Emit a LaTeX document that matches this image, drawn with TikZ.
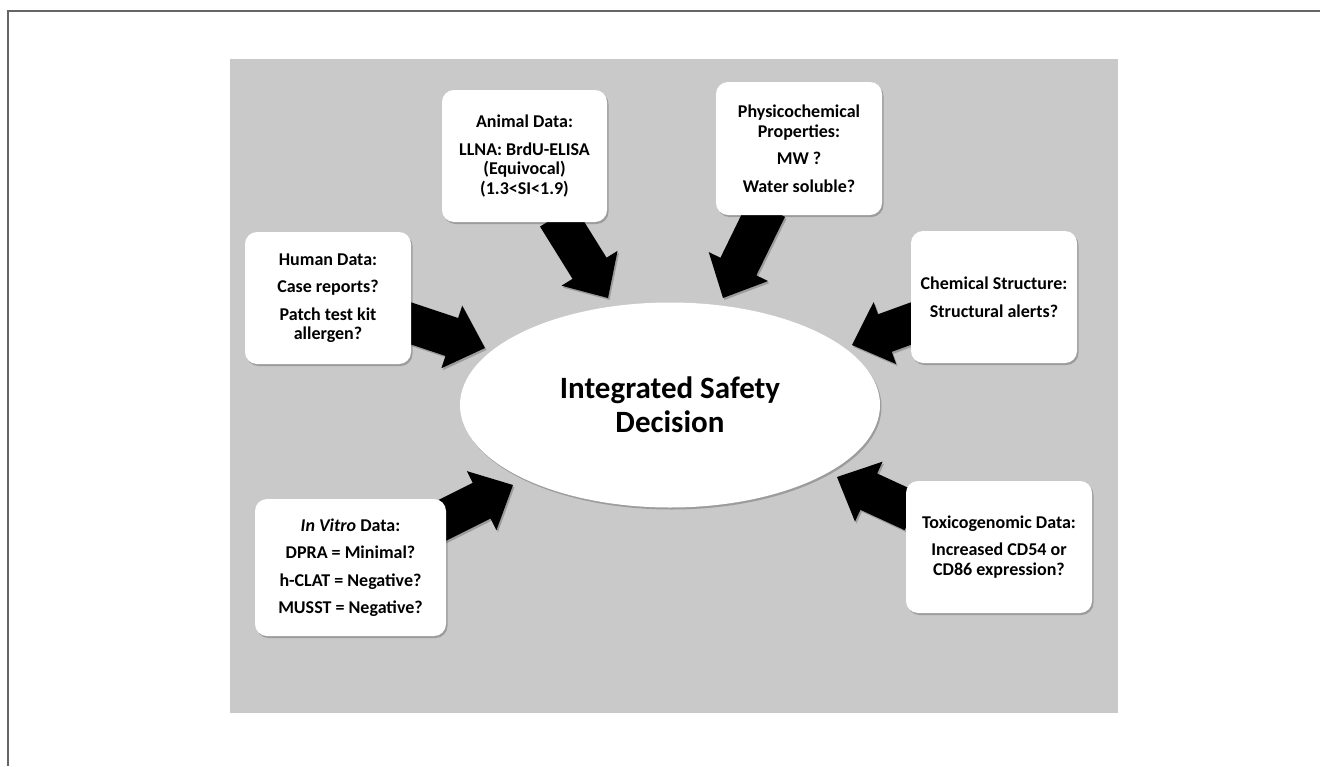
\documentclass[tikz,border=0pt]{standalone}
\usepackage{fontspec}
\setmainfont{Carlito}
\usetikzlibrary{calc,shadows,shapes.geometric}
\definecolor{bggray}{HTML}{C9C9C9}
\definecolor{framegray}{HTML}{666666}
\tikzset{
  softshadow/.style={drop shadow={shadow xshift=1.5pt, shadow yshift=-2pt, fill=black, opacity=0.22}},
  infobox/.style={fill=white, rounded corners=12pt, align=center, inner sep=0pt,
    font=\bfseries\fontsize{18}{19.5}\selectfont, softshadow},
  centerell/.style={ellipse, fill=white, inner sep=0pt, minimum width=420pt, minimum height=205pt,
    align=center, font=\bfseries\fontsize{31}{34}\selectfont, softshadow},
  blockarrowstyle/.style={fill=black, softshadow}
}
\newcommand\blockarrow[2]{%
  \fill[blockarrowstyle] ($(#1)!20pt!90:(#2)$)
    -- ($(#2)!35pt!(#1)!20pt!-90:(#1)$)
    -- ($(#2)!35pt!(#1)!33pt!-90:(#1)$)
    -- (#2)
    -- ($(#2)!35pt!(#1)!33pt!90:(#1)$)
    -- ($(#2)!35pt!(#1)!20pt!90:(#1)$)
    -- ($(#1)!20pt!-90:(#2)$) -- cycle;}
\begin{document}
\begin{tikzpicture}[x=1pt,y=-1pt]
\useasboundingbox (0,0) rectangle (1320,766);
\fill[white] (0,0) rectangle (1320,766);
\draw[framegray, line width=2pt] (8,766) -- (8,11) -- (1320,11);
\fill[bggray] (230,59) rectangle (1118,713);

% arrow end points
\coordinate (tA) at (557,216);  \coordinate (hA) at (608,298);
\coordinate (tH) at (404,321);  \coordinate (hH) at (485,348);
\coordinate (tP) at (767,208);  \coordinate (hP) at (723,298);
\coordinate (tC) at (918,321);  \coordinate (hC) at (852,345);
\coordinate (tV) at (433,525);  \coordinate (hV) at (513,485);
\coordinate (tT) at (913,512);  \coordinate (hT) at (837,477);

\blockarrow{tA}{hA}
\blockarrow{tH}{hH}
\blockarrow{tP}{hP}
\blockarrow{tC}{hC}
\blockarrow{tV}{hV}
\blockarrow{tT}{hT}

\node[centerell] (isd) at (670,405) {Integrated Safety\\Decision};

\node[infobox, minimum width=165pt, minimum height=132pt] (animal) at (524.5,156)
  {Animal Data:\\[8pt]LLNA: BrdU-ELISA\\(Equivocal)\\(1.3<SI<1.9)};
\node[infobox, minimum width=166pt, minimum height=132pt] (human) at (328,298)
  {Human Data:\\[8pt]Case reports?\\[8pt]Patch test kit\\allergen?};
\node[infobox, minimum width=166pt, minimum height=133pt] (physico) at (799,148.5)
  {Physicochemical\\Properties:\\[8pt]MW ?\\[8pt]Water soluble?};
\node[infobox, minimum width=166pt, minimum height=132pt] (chem) at (994,297)
  {Chemical Structure:\\[8pt]Structural alerts?};
\node[infobox, minimum width=191pt, minimum height=137pt] (invitro) at (350.5,567.5)
  {\textit{In Vitro} Data:\\[8pt]DPRA = Minimal?\\[8pt]h-CLAT = Negative?\\[8pt]MUSST = Negative?};
\node[infobox, minimum width=186pt, minimum height=132pt] (toxico) at (999,547)
  {Toxicogenomic Data:\\[8pt]Increased CD54 or\\CD86 expression?};
\end{tikzpicture}
\end{document}
